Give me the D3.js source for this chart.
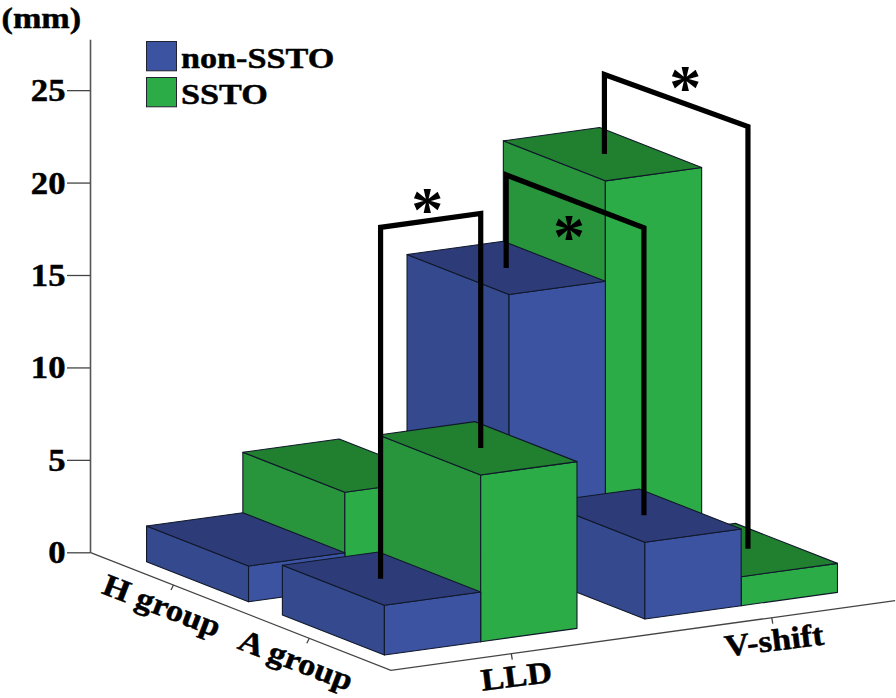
<!DOCTYPE html>
<html><head><meta charset="utf-8">
<script src="https://cdn.jsdelivr.net/npm/d3@7/dist/d3.min.js"></script>
<style>html,body{margin:0;padding:0;background:#fff}svg{display:block}text{font-family:"Liberation Serif",serif;font-weight:bold;fill:#000;stroke:#000;stroke-width:.45px}</style>
</head><body><svg id="c" width="896" height="698"></svg>
<script>
const categories = ["LLD", "V-shift"];
const groups = ["H group", "A group"];
const seriesNames = ["non-SSTO", "SSTO"];
const hNonSsto = [1.93, 14.67];
const hSsto = [5.2, 20.1];
const aNonSsto = [2.69, 4.15];
const aSsto = [9.02, 1.57];
const yTicks = [0, 5, 10, 15, 20, 25];
const sigLinks = [
  {from: ["A group", "LLD", "non-SSTO"], to: ["A group", "LLD", "SSTO"], level: 21.7},
  {from: ["H group", "V-shift", "non-SSTO"], to: ["A group", "V-shift", "non-SSTO"], level: 19.7},
  {from: ["H group", "V-shift", "SSTO"], to: ["A group", "V-shift", "SSTO"], level: 24.4}
];

const svg = d3.select("#c");
const values = {"H group": {"non-SSTO": hNonSsto, "SSTO": hSsto}, "A group": {"non-SSTO": aNonSsto, "SSTO": aSsto}};
const palette = {
  "non-SSTO": {side: "#354a8e", front: "#3c53a1", top: "#2d3c78"},
  "SSTO": {side: "#28953c", front: "#2cac47", top: "#218030"}
};

// oblique projection: screen = origin + u*U + v*V - height
const ORIGIN = [90, 552.3], U = [96.3, -13.3], V = [102, 40];
const yScale = d3.scaleLinear().domain([0, 27.75]).range([552.3, 39.3]);
const catScale = d3.scaleBand().domain(categories).range([-0.1025, 5.3075]);
const grpScale = d3.scaleBand().domain(groups).range([0.1525, 2.816]);
const serScale = c => d3.scaleBand().domain(seriesNames).range([catScale(c) + catScale.bandwidth() / 2 - 1, catScale(c) + catScale.bandwidth() / 2 + 1]);
const barDepth = 1;
const P = (u, v, val = 0) => [
  ORIGIN[0] + u * U[0] + v * V[0],
  ORIGIN[1] + u * U[1] + v * V[1] - (yScale(0) - yScale(val))
];
const line = d3.line();
const poly = pts => line(pts) + "Z";

// floor axes and y axis
const FLOOR_W = 5.236, FLOOR_D = 2.95;
const axisLayer = svg.append("g").attr("fill", "none").attr("stroke", "#444").attr("stroke-width", 1.3);
axisLayer.append("path").attr("d", line([P(0, 0), P(0, FLOOR_D), P(FLOOR_W, FLOOR_D)]));

const yAxis = d3.axisLeft(yScale).tickValues(yTicks).tickSize(23).tickPadding(1).tickSizeOuter(0);
const yG = svg.append("g").attr("transform", `translate(${ORIGIN[0]},0)`).call(yAxis);
yG.select(".domain").attr("stroke", "#555").attr("stroke-width", 1.6);
yG.selectAll(".tick line").attr("stroke", "#444").attr("stroke-width", 1.3);
yG.selectAll(".tick text")
  .attr("x", 0).attr("dy", null).attr("y", 10.5)
  .attr("transform", "translate(-24.5,0) scale(1.12,1)")
  .attr("font-size", 31).attr("font-family", "Liberation Serif").attr("font-weight", "bold").attr("fill", "#000");

// category & group ticks and labels
categories.forEach(c => {
  const u = catScale(c) + catScale.bandwidth() / 2;
  const a = P(u, FLOOR_D), b = [a[0] + 1, a[1] + 6];
  axisLayer.append("path").attr("d", line([a, b]));
});
groups.forEach(g => {
  const v = grpScale(g) + grpScale.bandwidth() / 2;
  const a = P(0, v), b = [a[0] - 2.5, a[1] + 5];
  axisLayer.append("path").attr("d", line([a, b]));
});
const tiltedLabel = (txt, anchorPt, rot) => svg.append("text")
  .attr("transform", `translate(${anchorPt[0]},${anchorPt[1]}) rotate(${rot}) scale(1.12,1)`)
  .attr("font-size", 31).text(txt);
const catOff = {"LLD": [-29, 37], "V-shift": [-46, 39]};
const grpOff = {"H group": [-73, 8], "A group": [-73, 10]};
categories.forEach(c => {
  const a = P(catScale(c) + catScale.bandwidth() / 2, FLOOR_D);
  tiltedLabel(c, [a[0] + catOff[c][0], a[1] + catOff[c][1]], -7);
});
groups.forEach(g => {
  const a = P(0, grpScale(g) + grpScale.bandwidth() / 2);
  tiltedLabel(g, [a[0] + grpOff[g][0], a[1] + grpOff[g][1]], 21);
});

// bars: back row first, nearer series drawn later
const barRows = [];
groups.forEach(g => {
  [...categories].reverse().forEach(c => {
    [...seriesNames].reverse().forEach(s => {
      barRows.push({g, c, s, val: values[g][s][categories.indexOf(c)]});
    });
  });
});
const bars = svg.append("g").selectAll("g").data(barRows).join("g")
  .attr("stroke", "#10182a").attr("stroke-width", 1.1).attr("stroke-linejoin", "round");
const fp = d => {
  const sc = serScale(d.c), u0 = sc(d.s), u1 = u0 + sc.bandwidth();
  const v0 = grpScale(d.g) + (grpScale.bandwidth() - barDepth) / 2, v1 = v0 + barDepth;
  return {u0, u1, v0, v1};
};
bars.append("path").attr("fill", d => palette[d.s].side).attr("d", d => {
  const {u0, v0, v1} = fp(d);
  return poly([P(u0, v0, d.val), P(u0, v1, d.val), P(u0, v1), P(u0, v0)]);
});
bars.append("path").attr("fill", d => palette[d.s].front).attr("d", d => {
  const {u0, u1, v1} = fp(d);
  return poly([P(u0, v1, d.val), P(u1, v1, d.val), P(u1, v1), P(u0, v1)]);
});
bars.append("path").attr("fill", d => palette[d.s].top).attr("d", d => {
  const {u0, u1, v0, v1} = fp(d);
  return poly([P(u0, v0, d.val), P(u1, v0, d.val), P(u1, v1, d.val), P(u0, v1, d.val)]);
});

// significance brackets
const topCentre = ([g, c, s]) => {
  const {u0, u1, v0, v1} = fp({g, c, s});
  return {u: (u0 + u1) / 2, v: (v0 + v1) / 2, val: values[g][s][categories.indexOf(c)]};
};
const endNudge = [[-0.01, 0.03], [0, 0.02], [0.02, 0.1]];
const starOffset = [[-3.5, -23.5], [-6, 23], [9, -25]];
const STAR_SIZE = 64;
sigLinks.forEach((l, i) => {
  const a = topCentre(l.from), b = topCentre(l.to);
  a.u += endNudge[i][0]; b.u += endNudge[i][1];
  const pa = P(a.u, a.v, a.val), pa2 = P(a.u, a.v, l.level), pb2 = P(b.u, b.v, l.level), pb = P(b.u, b.v, b.val);
  svg.append("path").attr("d", line([pa, pa2, pb2, pb]))
    .attr("fill", "none").attr("stroke", "#000").attr("stroke-width", 5.2).attr("stroke-linejoin", "miter");
  const mid = [(pa2[0] + pb2[0]) / 2, (pa2[1] + pb2[1]) / 2];
  svg.append("text").attr("x", mid[0] + starOffset[i][0]).attr("y", mid[1] + starOffset[i][1] + STAR_SIZE * 0.527)
    .attr("text-anchor", "middle").attr("font-size", STAR_SIZE).style("stroke-width", 0).text("*");
});

// title and legend
svg.append("text").attr("transform", "translate(1.5,28) scale(1.14,1)").attr("font-size", 30).text("(mm)");
const legend = svg.append("g").selectAll("g").data(seriesNames).join("g")
  .attr("transform", (d, i) => `translate(146.5,${41.5 + i * 36})`);
legend.append("rect").attr("width", 30).attr("height", 29.3)
  .attr("fill", d => palette[d].front).attr("stroke", "#223").attr("stroke-width", 1);
legend.append("text").attr("transform", "translate(34.5,26.5) scale(1.14,1)").attr("font-size", 30).text(d => d);
</script></body></html>
